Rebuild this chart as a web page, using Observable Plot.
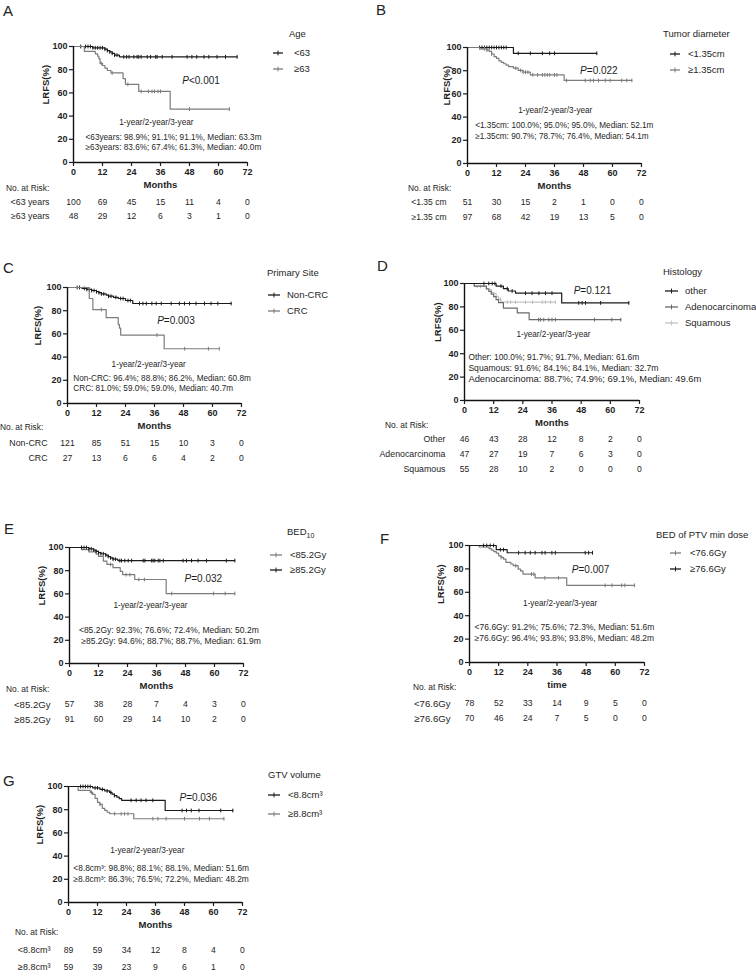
<!DOCTYPE html>
<html>
<head>
<meta charset="utf-8">
<script src="https://cdn.jsdelivr.net/npm/d3@7"></script>
<script src="https://cdn.jsdelivr.net/npm/@observablehq/plot@0.6"></script>
<style>
  html, body { margin:0; padding:0; background:#fff; }
  #root { position:relative; width:756px; height:972px; overflow:hidden; font-family:"Liberation Sans", Arial, sans-serif; color:#1e1e1e; }
  .abs { position:absolute; white-space:nowrap; line-height:1; }
  .mid { transform: translateY(-50%); }
  .letter { font-size:15px; line-height:15px; color:#222; }
  .leg { font-size:9.5px; display:flex; align-items:center; }
  .legtitle { font-size:9.5px; }
  .nar { font-size:8.4px; }
</style>
</head>
<body>
<div id="root"></div>
<script>
// ---------------- shared ticks ----------------
const monthTicks = [0, 12, 24, 36, 48, 60, 72];
const pctTicks = [0, 20, 40, 60, 80, 100];

// ---------------- A: Age ----------------
const ageLegend = ["<63", "≥63"];
const ageRiskLabels = ["<63 years", "≥63 years"];
const ageRisk = [[100, 69, 45, 15, 11, 4, 0], [48, 29, 12, 6, 3, 1, 0]];
const ageLt63Steps = [[0,100],[8,98.9],[13,97.7],[14,96.5],[15,95.3],[16,94.1],[17,92.6],[19,91.1]];
const ageLt63Cens = [3,5,6,7,8,9,10,11,12,13,14,15,16,17,18,20.8,22,23,25,26.3,27,28,30.5,31.9,34,34.6,36.7,40.8,47,49,51,54,56,59.4,62.9,67.7];
const ageGe63Steps = [[0,100],[4.5,95.8],[9,93.7],[10,91.6],[10.5,89.5],[11,85.4],[12,83.6],[13,81.4],[14,79.3],[15.5,77.2],[20.5,72.3],[21.5,67.4],[27,61.3],[40,46]];
const ageGe63Cens = [11.5,16,22.5,28,31,32.5,33.5,35,36,48,64.5];
const ageSummary = ["<63years: 98.9%; 91.1%; 91.1%, Median: 63.3m", "≥63years: 83.6%; 67.4%; 61.3%, Median: 40.0m"];

// ---------------- B: Tumor diameter ----------------
const diaLegend = ["<1.35cm", "≥1.35cm"];
const diaRiskLabels = ["<1.35 cm", "≥1.35 cm"];
const diaRisk = [[51, 30, 15, 2, 1, 0, 0], [97, 68, 42, 19, 13, 5, 0]];
const diaLtSteps = [[0,100],[19,95]];
const diaLtCens = [5,6,7,8,9,10,11,12,13,14,15,16,21,26,31,34,36,53.5];
const diaGeSteps = [[0,100],[5,98.9],[8,97.8],[9,96.6],[10,94.4],[11,92.1],[12,90.7],[13,88.4],[14,87.2],[15,86],[16,84.8],[17,83.5],[19,82.2],[21,80.2],[23,78.7],[26,76.4],[40,71.6]];
const diaGeCens = [7,8,10,20,22,23,24,25,27,29,31,32,33,34,36,37,41,48.7,50.8,52.1,54.2,57,59,63.8,65.9,68];
const diaSummary = ["<1.35cm: 100.0%; 95.0%; 95.0%, Median: 52.1m", "≥1.35cm: 90.7%; 78.7%; 76.4%, Median: 54.1m"];

// ---------------- C: Primary site ----------------
const siteLegend = ["Non-CRC", "CRC"];
const siteRiskLabels = ["Non-CRC", "CRC"];
const siteRisk = [[121, 85, 51, 15, 10, 3, 0], [27, 13, 6, 6, 4, 2, 0]];
const siteNonSteps = [[0,100],[6,99.2],[8,98.3],[10,97.4],[12,96.4],[13,95.5],[14,94.5],[16,93.5],[17,92.5],[19,91.5],[21,90.5],[24,88.8],[27,86.2]];
const siteNonCens = [4,5,7,8,9,10,11,12,13,14,15,17,18,20,22,23,25,26,29.8,31.2,32.6,34.9,36.7,38.8,42.9,46.3,48.4,50.5,53.2,56.7,59.4,62.2,67.7];
const siteCrcSteps = [[0,100],[9,90.5],[10.5,81],[16,74],[21,68],[21.5,65],[22,59],[40,47.2]];
const siteCrcCens = [14,37,48.5,58.3,62.8];
const siteSummary = ["Non-CRC: 96.4%; 88.8%; 86.2%, Median: 60.8m", "CRC: 81.0%; 59.0%; 59.0%, Median: 40.7m"];

// ---------------- D: Histology ----------------
const histLegend = ["other", "Adenocarcinoma", "Squamous"];
const histRiskLabels = ["Other", "Adenocarcinoma", "Squamous"];
const histRisk = [[46, 43, 28, 12, 8, 2, 0], [47, 27, 19, 7, 6, 3, 0], [55, 28, 10, 2, 0, 0, 0]];
const histOtherSteps = [[0,100],[13,97.8],[16,95.6],[18,93.6],[21,91.7],[40,83.4]];
const histOtherCens = [8,10,11.4,12.5,15,17.6,19.6,25.1,27.8,30.6,33.3,36,47,48.4,49.8,56,67.6];
const histAdenoSteps = [[0,100],[4,97.8],[9,95.5],[10,93.2],[11,90.9],[12,88.7],[13,86.2],[14,83.6],[16,79],[21.7,74.9],[26.6,69.1]];
const histAdenoCens = [30.5,31.3,32.6,34.7,36,37.4,53.5,60.6,64.3];
const histSqSteps = [[0,100],[4,97.6],[9,95],[11,92.5],[12,91.6],[13,89],[14,86.5],[15,84.1]];
const histSqCens = [5.2,6.6,14.8,17.6,19,21,25.1,28,32,33.3,35.4,37.4];
const histSummary = ["Other: 100.0%; 91.7%; 91.7%, Median: 61.6m", "Squamous: 91.6%; 84.1%; 84.1%, Median: 32.7m", "Adenocarcinoma: 88.7%; 74.9%; 69.1%, Median: 49.6m"];

// ---------------- E: BED10 ----------------
const bedLegend = ["<85.2Gy", "≥85.2Gy"];
const bedRiskLabels = ["<85.2Gy", "≥85.2Gy"];
const bedRisk = [[57, 38, 28, 7, 4, 3, 0], [91, 60, 29, 14, 10, 2, 0]];
const bedLowSteps = [[0,100],[5,98.2],[8,96.3],[11,94.3],[12,92.3],[14,88.3],[15.5,85.4],[18,82.6],[21,79.5],[22,76.6],[27,72.4],[40,60.3]];
const bedLowCens = [17,23.4,25,28.7,31,42.3,59.6,64.4,68.4];
const bedHighSteps = [[0,100],[8,98.9],[10,97.8],[11,96.7],[12,95.6],[13,94.6],[15,93.4],[16,92.2],[17,91],[18,89.9],[20,88.7]];
const bedHighCens = [5,6,7,8,9,10,11,12,13,14,15,16,17,18,19,20.8,21.5,22.9,24.3,25.7,30.5,31.2,34,34.6,35.3,36.7,37.4,38.8,47,48.4,50.5,53.2,56.7,64.9,68.4];
const bedSummary = ["<85.2Gy: 92.3%; 76.6%; 72.4%, Median: 50.2m", " ≥85.2Gy: 94.6%; 88.7%; 88.7%, Median: 61.9m"];

// ---------------- F: BED of PTV min dose ----------------
const ptvLegend = ["<76.6Gy", "≥76.6Gy"];
const ptvRiskLabels = ["<76.6Gy", "≥76.6Gy"];
const ptvRisk = [[78, 52, 33, 14, 9, 5, 0], [70, 46, 24, 7, 5, 0, 0]];
const ptvLowSteps = [[0,100],[4,98.7],[8,97.4],[9,96.1],[10,94.8],[11,93.5],[12,91.2],[13,89.8],[14,88.4],[15,85.6],[17,84.2],[18,82.8],[20,79.8],[21,78.3],[22,75.6],[27,72.3],[40,66]];
const ptvLowCens = [13,19,25.5,26.5,31,36.6,55.8,58.6,62.6,63.9,67.9];
const ptvHighSteps = [[0,100],[11,96.4],[15.5,93.8]];
const ptvHighCens = [5.8,7.1,8.5,9.9,12.7,14,20.2,22.9,25,27,29.8,31.1,33.9,35.3,47.6,49,50.6];
const ptvSummary = ["<76.6Gy: 91.2%; 75.6%; 72.3%, Median: 51.6m", "≥76.6Gy: 96.4%; 93.8%; 93.8%, Median: 48.2m"];

// ---------------- G: GTV volume ----------------
const gtvLegend = ["<8.8cm³", "≥8.8cm³"];
const gtvRiskLabels = ["<8.8cm³", "≥8.8cm³"];
const gtvRisk = [[89, 59, 34, 12, 8, 4, 0], [59, 39, 23, 9, 6, 1, 0]];
const gtvLtSteps = [[0,100],[10,98.8],[13,97.5],[15,96.2],[17,94.9],[18,93.5],[19,92.2],[20,90.8],[21,89.5],[22,88.1],[40,79.3]];
const gtvLtCens = [5,6,7,8,9,11,12,14,16,17.5,19,25.9,28,30,32.1,34.9,47,48.8,50.8,54,63,68];
const gtvGeSteps = [[0,100],[4,96.6],[9,94.9],[10,93.2],[11,89.8],[12,86.3],[13,84.6],[14,81.2],[15,79.5],[16,77.8],[17,76.5],[27,72.2]];
const gtvGeCens = [9.5,13,19.1,21.8,23.2,24.6,34.9,37,40.4,48,54.2,58.3,64.3];
const gtvSummary = ["<8.8cm³: 98.8%; 88.1%; 88.1%, Median: 51.6m", "≥8.8cm³: 86.3%; 76.5%; 72.2%, Median: 48.2m"];

// ---------------- styling & layout ----------------
const BLACK = "#1a1a1a", GRAY = "#7c7c7c", DGRAY = "#6a6a6a", LGRAY = "#c2c2c2";
const FONT = '"Liberation Sans", Arial, sans-serif';

const panels = [
  { letter: "A", letterPos: [3, 3], x0: 73, x1: 247, y100: 46, y0: 162, ylabOff: 28, xlabel: "Months",
    curves: [{steps: ageLt63Steps, cens: ageLt63Cens, color: BLACK}, {steps: ageGe63Steps, cens: ageGe63Cens, color: GRAY}],
    legendTitle: "Age", legendTitlePos: [289, 34], legend: ageLegend, legendColors: [BLACK, GRAY], legendYs: [53, 69], legendLine: [273, 283], legendTextX: 294,
    pPos: [45.0, 70.7], pText: "<0.001", yrsPos: [34.3, 34.7], summary: ageSummary, sumX: 5, sumYs: [21.3, 13.2], sumSizes: [8.2, 8.2],
    narPos: [6, 188], riskLabels: ageRiskLabels, risk: ageRisk, rows: [202, 216], labDx: -24, labSize: 8.8 },
  { letter: "B", letterPos: [376, 2], x0: 467, x1: 641, y100: 47, y0: 163, ylabOff: 21, xlabel: "Months",
    curves: [{steps: diaLtSteps, cens: diaLtCens, color: BLACK}, {steps: diaGeSteps, cens: diaGeCens, color: GRAY}],
    legendTitle: "Tumor diameter", legendTitlePos: [663, 34], legend: diaLegend, legendColors: [BLACK, GRAY], legendYs: [54, 70], legendLine: [670, 680], legendTextX: 688,
    pPos: [46.6, 79.6], pText: "=0.022", yrsPos: [36.3, 45.7], summary: diaSummary, sumX: 3.2, sumYs: [32.8, 23.3], sumSizes: [8.2, 8.2],
    narPos: [408, 188], riskLabels: diaRiskLabels, risk: diaRisk, rows: [202, 217], labDx: -21, labSize: 8.5 },
  { letter: "C", letterPos: [3, 260], x0: 67, x1: 241, y100: 287, y0: 403, ylabOff: 29.5, xlabel: "Months",
    curves: [{steps: siteNonSteps, cens: siteNonCens, color: BLACK}, {steps: siteCrcSteps, cens: siteCrcCens, color: GRAY}],
    legendTitle: "Primary Site", legendTitlePos: [267, 273], legend: siteLegend, legendColors: [BLACK, GRAY], legendYs: [295, 311], legendLine: [268, 280], legendTextX: 287,
    pPos: [37.1, 71], pText: "=0.003", yrsPos: [33.6, 33.6], summary: siteSummary, sumX: 2.4, sumYs: [21.3, 12.7], sumSizes: [8.2, 8.2],
    narPos: [0, 427], riskLabels: siteRiskLabels, risk: siteRisk, rows: [443, 458], labDx: -20, labSize: 8.8 },
  { letter: "D", letterPos: [377, 258], x0: 464, x1: 639, y100: 283, y0: 400, ylabOff: 27, xlabel: "Months",
    curves: [{steps: histSqSteps, cens: histSqCens, color: LGRAY}, {steps: histAdenoSteps, cens: histAdenoCens, color: DGRAY}, {steps: histOtherSteps, cens: histOtherCens, color: BLACK}],
    legendTitle: "Histology", legendTitlePos: [663, 272], legend: histLegend, legendColors: [BLACK, DGRAY, LGRAY], legendYs: [291, 307, 323], legendLine: [665, 678], legendTextX: 685,
    pPos: [44.9, 93.4], pText: "=0.121", yrsPos: [36.6, 56.1], summary: histSummary, sumX: 1.6, sumYs: [36.5, 27.6, 18.5], sumSizes: [8.4, 8.6, 9.4],
    narPos: [385, 425], riskLabels: histRiskLabels, risk: histRisk, rows: [438, 453, 469], labDx: -19, labSize: 8.8 },
  { letter: "E", letterPos: [4, 521], x0: 69, x1: 243, y100: 547, y0: 663, ylabOff: 28, xlabel: "Months",
    curves: [{steps: bedLowSteps, cens: bedLowCens, color: GRAY}, {steps: bedHighSteps, cens: bedHighCens, color: BLACK}],
    legendTitle: "BED<sub style='font-size:7px'>10</sub>", legendTitlePos: [287, 533], legend: bedLegend, legendColors: [GRAY, BLACK], legendYs: [555, 570], legendLine: [270, 282], legendTextX: 290,
    pPos: [47.6, 73], pText: "=0.032", yrsPos: [33.5, 50], summary: bedSummary, sumX: 3.9, sumYs: [29, 19.2], sumSizes: [8.5, 8.5],
    narPos: [6, 689], riskLabels: bedRiskLabels, risk: bedRisk, rows: [704, 719], labDx: -19, labSize: 9.6 },
  { letter: "F", letterPos: [380, 531], x0: 469, x1: 644, y100: 545, y0: 662, ylabOff: 28.5, xlabel: "time",
    curves: [{steps: ptvLowSteps, cens: ptvLowCens, color: GRAY}, {steps: ptvHighSteps, cens: ptvHighCens, color: BLACK}],
    legendTitle: "BED of PTV min dose", legendTitlePos: [656, 535], legend: ptvLegend, legendColors: [GRAY, BLACK], legendYs: [553, 569], legendLine: [670, 681], legendTextX: 690,
    pPos: [42.1, 79.5], pText: "=0.007", yrsPos: [37.3, 50.2], summary: ptvSummary, sumX: 2.1, sumYs: [29.7, 20.3], sumSizes: [8.5, 8.5],
    narPos: [413, 687], riskLabels: ptvRiskLabels, risk: ptvRisk, rows: [703, 718], labDx: -19, labSize: 9.6 },
  { letter: "G", letterPos: [3, 773], x0: 68, x1: 242, y100: 786, y0: 902, ylabOff: 29, xlabel: "Months",
    curves: [{steps: gtvGeSteps, cens: gtvGeCens, color: GRAY}, {steps: gtvLtSteps, cens: gtvLtCens, color: BLACK}],
    legendTitle: "GTV volume", legendTitlePos: [268, 775], legend: gtvLegend, legendColors: [BLACK, GRAY], legendYs: [795, 814], legendLine: [268, 280], legendTextX: 288,
    pPos: [45.9, 89.9], pText: "=0.036", yrsPos: [32.6, 44.8], summary: gtvSummary, sumX: 2, sumYs: [29.9, 19.6], sumSizes: [8.4, 8.4],
    narPos: [15, 932], riskLabels: gtvRiskLabels, risk: gtvRisk, rows: [950, 967], labDx: -18, labSize: 9 }
];

// ---------------- helpers ----------------
const root = document.getElementById("root");
const censorSymbol = { draw(ctx, size) { const r = Math.sqrt(size / Math.PI); ctx.moveTo(0, -r); ctx.lineTo(0, r); } };
function survAt(steps, t) { let s = steps[0][1]; for (const [tt, v] of steps) if (tt <= t) s = v; return s; }
function place(el, left, top) {
  el.style.position = "absolute"; el.style.left = left + "px"; el.style.top = top + "px";
  el.style.background = "transparent"; el.style.overflow = "visible"; el.style.maxWidth = "none";
  root.appendChild(el);
}
function addHTML(cls, left, top, inner) {
  const d = document.createElement("div");
  d.className = "abs " + cls; d.style.left = left + "px"; d.style.top = top + "px"; d.innerHTML = inner;
  root.appendChild(d); return d;
}

const ML = 60, MR = 130, MT = 12, MB = 36;

function kmPlot(P) {
  const w = P.x1 - P.x0, h = P.y0 - P.y100;
  const marks = [];
  for (const c of P.curves) {
    const end = Math.max(...c.cens);
    const last = c.steps[c.steps.length - 1][1];
    const pts = c.steps.map(([t, s]) => ({t, s})).concat([{t: end, s: last}]);
    marks.push(Plot.line(pts, {x: "t", y: "s", curve: "step-after", stroke: c.color, strokeWidth: 1.2}));
    marks.push(Plot.dot(c.cens.map(t => ({t, s: survAt(c.steps, t)})), {x: "t", y: "s", symbol: censorSymbol, r: 1.9, stroke: c.color, fill: "none", strokeWidth: 1}));
  }
  marks.push(
    Plot.ruleY([0], {stroke: "#111", strokeWidth: 1.4}),
    Plot.ruleX([0], {stroke: "#111", strokeWidth: 1.4}),
    Plot.axisX({ticks: monthTicks, tickSize: 4, tickPadding: 2, fontSize: 9, fontWeight: "bold", label: null, strokeWidth: 1.2}),
    Plot.axisY({ticks: pctTicks, tickSize: 4, tickPadding: 2, fontSize: 9, fontWeight: "bold", label: null, strokeWidth: 1.2}),
    Plot.text(["LRFS(%)"], {frameAnchor: "left", dx: -P.ylabOff, rotate: -90, fontWeight: "bold", fontSize: 9.5}),
    Plot.text([P.xlabel], {frameAnchor: "bottom", dy: 25, fontWeight: "bold", fontSize: 9.5}),
    Plot.text([{x: P.pPos[0], y: P.pPos[1], t: "P"}], {x: "x", y: "y", text: "t", fontStyle: "italic", textAnchor: "start", fontSize: 10}),
    Plot.text([{x: P.pPos[0], y: P.pPos[1], t: P.pText}], {x: "x", y: "y", text: "t", textAnchor: "start", dx: 6.7, fontSize: 10}),
    Plot.text([{x: P.yrsPos[0], y: P.yrsPos[1], t: "1-year/2-year/3-year"}], {x: "x", y: "y", text: "t", textAnchor: "middle", fontSize: 8.2}),
    Plot.text(P.summary.map((t, i) => ({t, x: P.sumX, y: P.sumYs[i], fs: P.sumSizes[i]})), {x: "x", y: "y", text: "t", textAnchor: "start", fontSize: d => d.fs})
  );
  const svg = Plot.plot({
    width: ML + w + MR, height: MT + h + MB,
    marginLeft: ML, marginRight: MR, marginTop: MT, marginBottom: MB,
    x: {domain: [0, 72], range: [ML, ML + w]},
    y: {domain: [0, 100], range: [MT + h, MT]},
    style: {fontFamily: FONT, fontSize: "9px", color: "#1e1e1e"},
    marks
  });
  place(svg, P.x0 - ML, P.y100 - MT);
}

function riskPlot(P) {
  const w = P.x1 - P.x0;
  const span = P.rows[P.rows.length - 1] - P.rows[0];
  const cells = [];
  P.risk.forEach((row, i) => row.forEach((n, j) => cells.push({lab: P.riskLabels[i], t: monthTicks[j], n})));
  const svg = Plot.plot({
    width: ML + w + MR, height: span + 20,
    marginLeft: ML, marginRight: MR, marginTop: 0, marginBottom: 0,
    x: {domain: [0, 72], range: [ML, ML + w], axis: null},
    y: {type: "point", domain: P.riskLabels, range: [10, 10 + span], padding: 0, axis: null},
    style: {fontFamily: FONT, fontSize: "8.5px", color: "#1e1e1e"},
    marks: [
      Plot.text(cells, {x: "t", y: "lab", text: d => String(d.n), fontSize: 8.6}),
      Plot.text(P.riskLabels, {x: () => 0, y: d => d, dx: P.labDx, textAnchor: "end", fontSize: P.labSize})
    ]
  });
  place(svg, P.x0 - ML, P.rows[0] - 10);
}

function decorations(P) {
  addHTML("letter", P.letterPos[0], P.letterPos[1], P.letter);
  addHTML("legtitle mid", P.legendTitlePos[0], P.legendTitlePos[1], P.legendTitle);
  const len = P.legendLine[1] - P.legendLine[0];
  const sw = P.legendTextX - P.legendLine[0];
  P.legend.forEach((lab, i) => {
    const c = P.legendColors[i];
    addHTML("leg mid", P.legendLine[0], P.legendYs[i],
      `<svg width="${sw}" height="10" style="display:block;flex:none"><line x1="0" x2="${len}" y1="5" y2="5" stroke="${c}" stroke-width="1.3"/><line x1="${len / 2}" x2="${len / 2}" y1="2.6" y2="7.4" stroke="${c}" stroke-width="1"/></svg><span>${lab}</span>`);
  });
  addHTML("nar mid", P.narPos[0], P.narPos[1], "No. at Risk:");
}

for (const P of panels) {
  kmPlot(P);
  riskPlot(P);
  decorations(P);
}
</script>
</body>
</html>
